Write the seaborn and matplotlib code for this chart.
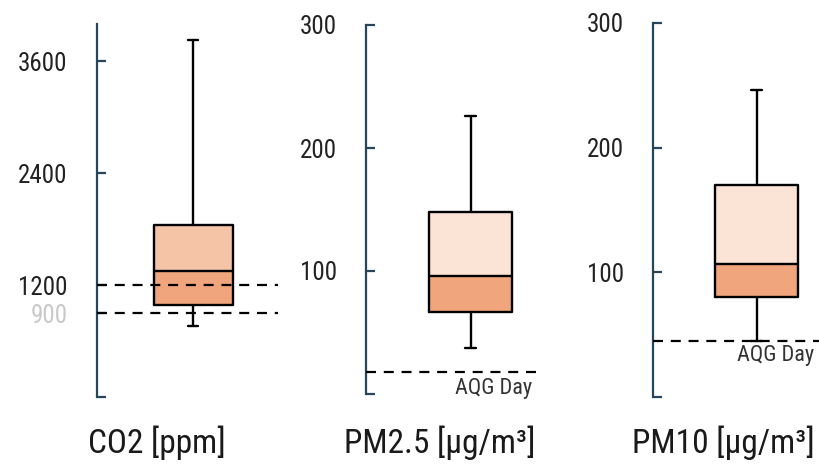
import matplotlib
matplotlib.use("Agg")
import matplotlib.pyplot as plt
from matplotlib import font_manager
import seaborn as sns

# ---- data (five-number summaries: low whisker, Q1, median, Q3, high whisker)
co2_stats = [760, 990, 1355, 1845, 3830]
pm25_stats = [37, 67, 96, 148, 226]
pm10_stats = [45, 80, 107, 170, 246]

co2_limits = [1200, 900]
pm25_aqg = 18
pm10_aqg = 45

panel_labels = ["CO2 [ppm]", "PM2.5 [µg/m³]", "PM10 [µg/m³]"]
co2_ticks = [0, 900, 1200, 2400, 3600]
co2_ticklabels = ["", "900", "1200", "2400", "3600"]
pm_ticks = [0, 100, 200, 300]
pm_ticklabels = ["", "100", "200", "300"]
aqg_label = "AQG Day"

# ---- style
sns.set_style("white")
fonts = font_manager.fontManager.ttflist
names = {f.name for f in fonts}
stretch = "normal"
if "Roboto Condensed" in names:
    fam = "Roboto Condensed"
elif "Liberation Sans Narrow" in names:
    fam = "Liberation Sans Narrow"
elif any(f.name == "DejaVu Sans" and str(f.stretch) in ("condensed", "semi-condensed") for f in fonts):
    fam = "DejaVu Sans"
    stretch = "condensed"
else:
    fam = "Roboto"
plt.rcParams["font.family"] = [fam, "DejaVu Sans"]
plt.rcParams["font.stretch"] = stretch
narrow = fam != "Roboto"
LAB_FS = 24 if narrow else 20
TICK_FS = 18 if narrow else 16
AQG_FS = 16 if narrow else 13

SPINE = "#26465c"
DARK = "#f0a57d"
LIGHT_CO2 = "#f5c4a6"
LIGHT_PM = "#fbe3d6"
TEXT = "#222222"

W, H = 819, 466
fig = plt.figure(figsize=(W / 100, H / 100), dpi=100)
fig.patch.set_facecolor("white")


def make_ax(left, right, top, bottom):
    return fig.add_axes([left / W, (H - bottom) / H, (right - left) / W, (bottom - top) / H])


def draw_panel(ax, stats, light, ylim, ticks, ticklabels, center, left, right, boxpx):
    lo, q1, med, q3, hi = stats
    s = boxpx / 0.8
    ax.bar([0], [med - q1], bottom=q1, width=0.8, color=DARK, zorder=1, linewidth=0)
    ax.bar([0], [q3 - med], bottom=med, width=0.8, color=light, zorder=1, linewidth=0)
    sns.boxplot(y=stats, ax=ax, whis=(0, 100), width=0.8, fill=False, color="black",
                linewidth=1.7, capwidths=0.11, showfliers=False, zorder=3)
    ax.set_xlim(-(center - left) / s, (right - center) / s)
    ax.set_ylim(*ylim)
    ax.set_yticks(ticks)
    ax.set_yticklabels(ticklabels)
    ax.set_xticks([])
    ax.set_xlabel("")
    ax.set_ylabel("")
    for sp in ["top", "right", "bottom"]:
        ax.spines[sp].set_visible(False)
    ax.spines["left"].set_color(SPINE)
    ax.spines["left"].set_linewidth(1.6)
    ax.tick_params(axis="y", left=True, direction="in", length=6.5, width=1.6, color=SPINE,
                   pad=21, labelsize=TICK_FS, labelcolor=TEXT)
    ax.set_facecolor("none")


# Panel 1: CO2
ax1 = make_ax(96.7, 278, 24, 397)
draw_panel(ax1, co2_stats, LIGHT_CO2, (0, 4000), co2_ticks, co2_ticklabels, 193, 96.7, 278, 79)
for v in co2_limits:
    ax1.axhline(v, color="black", lw=1.6, ls=(0, (4.5, 3.5)), zorder=4)
ax1.get_yticklabels()[1].set_color("#c9c9c9")

# Panel 2: PM2.5
ax2 = make_ax(366, 537, 25, 394)
draw_panel(ax2, pm25_stats, LIGHT_PM, (0, 300), pm_ticks, pm_ticklabels, 470.5, 366, 537, 83)
ax2.axhline(pm25_aqg, color="black", lw=1.6, ls=(0, (4.5, 3.5)), zorder=4)
ax2.text(0.97, pm25_aqg - 5, aqg_label, transform=ax2.get_yaxis_transform(), ha="right",
         va="top", fontsize=AQG_FS, color="#333333")

# Panel 3: PM10
ax3 = make_ax(653, 819, 23, 397)
draw_panel(ax3, pm10_stats, LIGHT_PM, (0, 300), pm_ticks, pm_ticklabels, 756.5, 653, 819, 83)
ax3.axhline(pm10_aqg, color="black", lw=1.6, ls=(0, (4.5, 3.5)), zorder=4)
ax3.text(0.97, pm10_aqg - 3, aqg_label, transform=ax3.get_yaxis_transform(), ha="right",
         va="top", fontsize=AQG_FS, color="#333333")

# bottom labels
for x, lab in zip([157, 440, 723], panel_labels):
    fig.text(x / W, (H - 443) / H, lab, ha="center", va="center", fontsize=LAB_FS, color="#1a1a1a")

fig.savefig("out.png", dpi=100, facecolor="white")
